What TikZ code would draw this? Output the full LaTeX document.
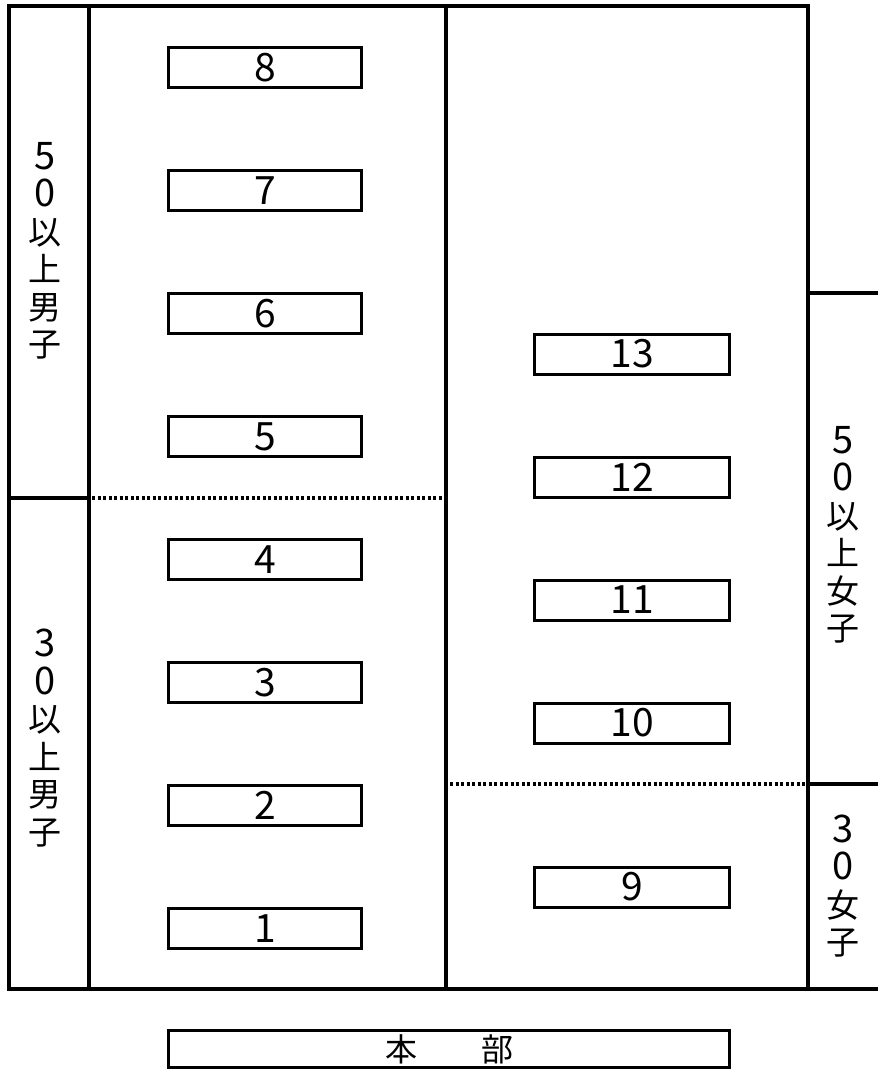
\documentclass[tikz,border=0pt]{standalone}
\usepackage{fontspec}
\setmainfont{Noto Sans CJK JP}
\usetikzlibrary{positioning}
\newcommand{\sidedigit}[1]{{\fontsize{38}{37.5}\selectfont #1}}
\tikzset{
  wall/.style={line width=4pt, line join=miter, line cap=rect},
  divider/.style={line width=3.2pt, dash pattern=on 3.3pt off 2.2pt},
  lane/.style={draw, line width=3pt, minimum width=193pt, minimum height=40pt, inner sep=0pt, font=\fontsize{39}{39}\selectfont},
  sidelabel/.style={align=center, inner sep=0pt, font=\fontsize{33}{37.5}\selectfont}
}

\begin{document}
\begin{tikzpicture}[x=1pt, y=-1pt, node distance=80pt]
  \useasboundingbox (0,0) rectangle (878,1071);

  % walls of the hall
  \draw[wall] (878,989) -- (9,989) -- (9,6) -- (808,6) -- (808,989);
  \draw[wall] (89,6) -- (89,989);
  \draw[wall] (446,6) -- (446,989);
  \draw[wall] (9,498) -- (89,498);
  \draw[wall] (808,293) -- (878,293);
  \draw[wall] (808,784) -- (878,784);
  \draw[divider] (92,498) -- (442,498);
  \draw[divider] (450,784) -- (806,784);

  % left courts
  \node[lane] (c8) at (265,67.5) {8};
  \node[lane, below=of c8] (c7) {7};
  \node[lane, below=of c7] (c6) {6};
  \node[lane, below=of c6] (c5) {5};
  \node[lane, below=of c5] (c4) {4};
  \node[lane, below=of c4] (c3) {3};
  \node[lane, below=of c3] (c2) {2};
  \node[lane, below=of c2] (c1) {1};

  % right courts
  \node[lane, minimum width=195pt] (c13) at (632,354) {13};
  \node[lane, minimum width=195pt, below=of c13] (c12) {12};
  \node[lane, minimum width=195pt, below=of c12] (c11) {11};
  \node[lane, minimum width=195pt, below=of c11] (c10) {10};
  \node[lane, minimum width=195pt, below=121pt of c10] (c9) {9};

  % group labels
  \node[sidelabel] (m50) at (45,251) {\sidedigit{5}\\\sidedigit{0}\\以\\上\\男\\子};
  \node[sidelabel] (m30) at (45,738) {\sidedigit{3}\\\sidedigit{0}\\以\\上\\男\\子};
  \node[sidelabel] (w50) at (843,535) {\sidedigit{5}\\\sidedigit{0}\\以\\上\\女\\子};
  \node[sidelabel] (w30) at (843,886) {\sidedigit{3}\\\sidedigit{0}\\女\\子};

  % headquarters
  \node[lane, minimum width=561pt, minimum height=37pt, font=\fontsize{32}{32}\selectfont] (hq) at (449,1049) {本\hspace{2em}部};
\end{tikzpicture}
\end{document}
